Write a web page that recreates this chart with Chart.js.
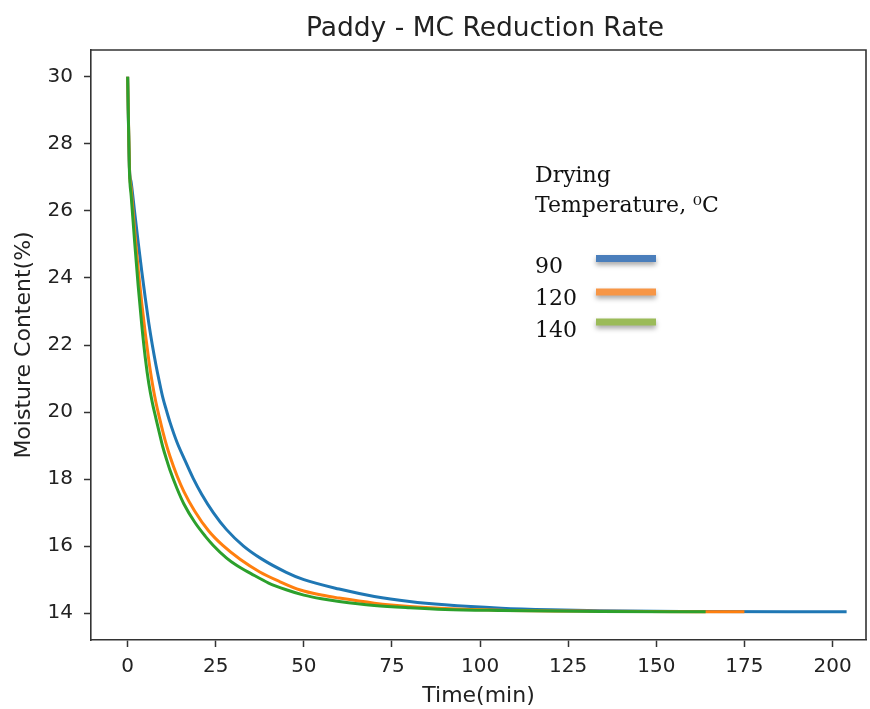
<!DOCTYPE html>
<html>
<head>
<meta charset="utf-8">
<script src="https://cdn.jsdelivr.net/npm/chart.js@4.4.1/dist/chart.umd.min.js"></script>
<style>
  body { margin: 0; background: #fff; }
</style>
</head>
<body>
<canvas id="mcChart" width="870" height="709"></canvas>
<script>
// (time in min, moisture content in %)
const time90 = [0, 0.5, 1, 2, 3, 4, 5, 6, 7, 8, 9, 10, 11, 12, 14, 16, 18.6, 21, 24.3, 28, 32.8, 38, 45, 50, 60, 70, 80, 90, 106, 120, 134, 160, 204];
const mc90 = [30, 27.3, 26.85, 25.95, 25.05, 24.2, 23.4, 22.65, 22.0, 21.42, 20.9, 20.42, 20.05, 19.7, 19.1, 18.62, 18.02, 17.55, 17.0, 16.5, 16.01, 15.62, 15.22, 15.0, 14.72, 14.5, 14.35, 14.25, 14.15, 14.1, 14.07, 14.05, 14.04];

const time120 = [0, 0.5, 1, 2, 3, 4, 5, 6, 7, 8, 9, 10, 11, 12, 14, 16, 19, 23, 27, 32, 37.5, 43, 49, 55, 60, 70, 80, 90, 106, 134, 175];
const mc120 = [30, 27.3, 26.65, 25.4, 24.25, 23.25, 22.35, 21.55, 20.86, 20.3, 19.84, 19.41, 19.02, 18.68, 18.1, 17.62, 17.05, 16.45, 16.02, 15.6, 15.23, 14.95, 14.69, 14.54, 14.45, 14.3, 14.2, 14.14, 14.09, 14.06, 14.04];

const time140 = [0, 0.5, 1, 2, 3, 4, 5, 6, 7, 8, 9, 10, 11, 12, 14, 16, 19, 22, 24.3, 28, 31, 35, 40, 45, 50, 55, 60, 70, 80, 90, 106, 134, 164];
const mc140 = [30, 27.2, 26.45, 25.05, 23.75, 22.6, 21.62, 20.85, 20.28, 19.82, 19.38, 18.95, 18.6, 18.27, 17.72, 17.25, 16.72, 16.3, 16.02, 15.65, 15.42, 15.18, 14.9, 14.7, 14.54, 14.43, 14.35, 14.23, 14.16, 14.11, 14.08, 14.05, 14.04];

const xTicks = [0, 25, 50, 75, 100, 125, 150, 175, 200];
const yTicks = [14, 16, 18, 20, 22, 24, 26, 28, 30];
const legendLabels = ["90", "120", "140"];

const lineColors = ["#1f77b4", "#ff7f0e", "#2ca02c"];
const legendColors = ["#4a7ebb", "#f79646", "#9bbb59"];
const axisColor = "#333333";

function toPoints(times, values) {
  return times.map((t, i) => ({ x: t, y: values[i] }));
}

// matplotlib style frame, title and the hand drawn legend box
const extrasPlugin = {
  id: "extras",
  afterDraw(chart) {
    const ctx = chart.ctx;
    const area = chart.chartArea;
    ctx.save();
    ctx.strokeStyle = axisColor;
    ctx.lineWidth = 1.6;
    ctx.beginPath();
    ctx.moveTo(area.left, area.top);
    ctx.lineTo(area.right, area.top);
    ctx.lineTo(area.right, area.bottom);
    ctx.stroke();

    ctx.fillStyle = "#222";
    ctx.font = '26.5px "DejaVu Sans"';
    ctx.textAlign = "center";
    ctx.textBaseline = "alphabetic";
    ctx.fillText("Paddy - MC Reduction Rate", 485, 36);

    ctx.textAlign = "left";
    ctx.fillStyle = "#111";
    ctx.font = '22px "DejaVu Serif"';
    ctx.fillText("Drying", 535, 182);
    ctx.fillText("Temperature, \u2070C", 535, 212);
    const rows = [273, 305, 337];
    const lineY = [258.5, 292, 322];
    for (let i = 0; i < legendLabels.length; i++) {
      ctx.fillStyle = "#111";
      ctx.fillText(legendLabels[i], 535, rows[i]);
      ctx.save();
      ctx.shadowColor = "rgba(0,0,0,0.35)";
      ctx.shadowBlur = 5;
      ctx.shadowOffsetY = 3;
      ctx.fillStyle = legendColors[i];
      ctx.fillRect(596, lineY[i] - 3.5, 60, 7);
      ctx.restore();
    }
    ctx.restore();
  }
};

const tickFont = { family: "DejaVu Sans", size: 20 };
const titleFont = { family: "DejaVu Sans", size: 22 };

const ctx = document.getElementById("mcChart").getContext("2d");
const chart = new Chart(ctx, {
  type: "line",
  data: {
    datasets: [
      { label: legendLabels[0], data: toPoints(time90, mc90), borderColor: lineColors[0], order: 2 },
      { label: legendLabels[1], data: toPoints(time120, mc120), borderColor: lineColors[1], order: 1 },
      { label: legendLabels[2], data: toPoints(time140, mc140), borderColor: lineColors[2], order: 0 }
    ]
  },
  options: {
    responsive: false,
    animation: false,
    elements: {
      line: { borderWidth: 3, fill: false, cubicInterpolationMode: "monotone", borderCapStyle: "butt" },
      point: { radius: 0 }
    },
    layout: { padding: { top: 50, right: 4, left: 0, bottom: 0 } },
    plugins: {
      legend: { display: false },
      title: { display: false },
      tooltip: { enabled: false }
    },
    scales: {
      x: {
        type: "linear",
        min: -10.4,
        max: 209.5,
        afterBuildTicks: s => { s.ticks = xTicks.map(v => ({ value: v })); },
        afterFit: s => { s.height = 69; },
        ticks: { font: tickFont, color: "#222", padding: 8, maxRotation: 0, autoSkip: false },
        grid: { drawOnChartArea: false, drawTicks: true, tickLength: 7, tickWidth: 1.5, tickColor: axisColor },
        border: { display: true, color: axisColor, width: 1.6 },
        title: { display: true, text: "Time(min)", font: titleFont, color: "#222", padding: 0 }
      },
      y: {
        min: 13.2,
        max: 30.8,
        afterBuildTicks: s => { s.ticks = yTicks.map(v => ({ value: v })); },
        afterFit: s => { s.width = 91; },
        ticks: { font: tickFont, color: "#222", padding: 11, autoSkip: false },
        grid: { drawOnChartArea: false, drawTicks: true, tickLength: 7, tickWidth: 1.5, tickColor: axisColor },
        border: { display: true, color: axisColor, width: 1.6 },
        title: { display: true, text: "Moisture Content(%)", font: titleFont, color: "#222", padding: { top: 11, bottom: 0 } }
      }
    }
  },
  plugins: [extrasPlugin]
});
</script>
</body>
</html>
